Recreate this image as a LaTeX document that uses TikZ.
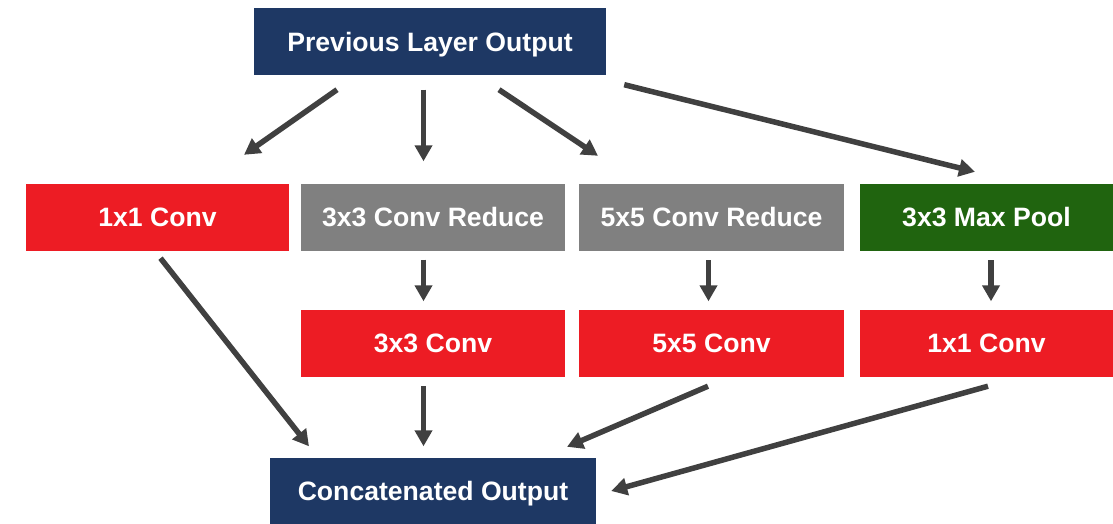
\documentclass[tikz,border=0pt]{standalone}
\usepackage{fontspec}
\setmainfont{Liberation Sans}
\usetikzlibrary{arrows.meta}

\definecolor{layerblue}{HTML}{1E3864}
\definecolor{convred}{HTML}{ED1C24}
\definecolor{reducegray}{HTML}{808080}
\definecolor{poolgreen}{HTML}{20640F}
\definecolor{arrowgray}{HTML}{404040}

\tikzset{
    block/.style = {rectangle, minimum height = 67pt, inner sep = 0pt, text height = 19pt, text depth = 0pt, text = white, font = \fontsize{26.6}{30}\selectfont\bfseries},
    flow/.style = {draw = arrowgray, line width = 5.5pt, -{Triangle[length = 16pt, width = 17pt]}}
}

\begin{document}
\begin{tikzpicture}[x = 1pt, y = -1pt]
    \useasboundingbox (0,0) rectangle (1113,524);

    \node[block, fill = layerblue, minimum width = 352pt] (prev) at (430,42) {Previous Layer Output};

    \node[block, fill = convred, minimum width = 263pt] (conva) at (157.5,217) {1x1 Conv};
    \node[block, fill = reducegray, minimum width = 264pt] (redb) at (433,217) {3x3 Conv Reduce};
    \node[block, fill = reducegray, minimum width = 265pt] (redc) at (711.5,217) {5x5 Conv Reduce};
    \node[block, fill = poolgreen, minimum width = 253pt] (pool) at (986.5,217) {3x3 Max Pool};

    \node[block, fill = convred, minimum width = 264pt] (convb) at (433,343) {3x3 Conv};
    \node[block, fill = convred, minimum width = 265pt] (convc) at (711.5,343) {5x5 Conv};
    \node[block, fill = convred, minimum width = 253pt] (convd) at (986.5,343) {1x1 Conv};

    \node[block, fill = layerblue, minimum width = 326pt] (concat) at (433,491) {Concatenated Output};

    % from the previous layer
    \draw[flow] ([shift = {(-93,14)}]prev.south) -- ([shift = {(86.5,-28.5)}]conva.north);
    \draw[flow] ([shift = {(-6.5,14)}]prev.south) -- ([shift = {(-9.5,-22)}]redb.north);
    \draw[flow] ([shift = {(69,14)}]prev.south) -- ([shift = {(-113.5,-27.5)}]redc.north);
    \draw[flow] ([shift = {(18,9)}]prev.south east) -- ([shift = {(-11.5,-11.5)}]pool.north);

    % second stage
    \draw[flow] ([shift = {(-9.5,9)}]redb.south) -- ([shift = {(-9.5,-8)}]convb.north);
    \draw[flow] ([shift = {(-3,9.5)}]redc.south) -- ([shift = {(-3,-8)}]convc.north);
    \draw[flow] ([shift = {(4.5,9.5)}]pool.south) -- ([shift = {(4.5,-8)}]convd.north);

    % into the concatenation
    \draw[flow] ([shift = {(3,7.5)}]conva.south) -- ([shift = {(-124,-11)}]concat.north);
    \draw[flow] ([shift = {(-9.5,9.5)}]convb.south) -- ([shift = {(-9.5,-11)}]concat.north);
    \draw[flow] ([shift = {(-3.5,9.5)}]convc.south) -- ([shift = {(134,-10.5)}]concat.north);
    \draw[flow] ([shift = {(1.5,9.5)}]convd.south) -- ([shift = {(15,0)}]concat.east);

\end{tikzpicture}
\end{document}
